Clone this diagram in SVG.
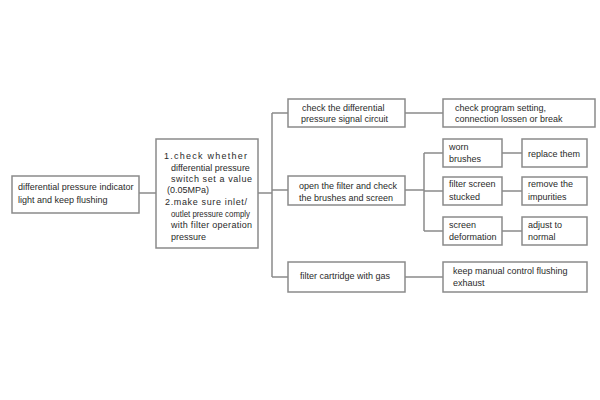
<svg xmlns="http://www.w3.org/2000/svg" width="600" height="400" viewBox="0 0 600 400">
<style>
.box{fill:#fff;stroke:#8a8a8a;stroke-width:1.5}
.ln{fill:none;stroke:#8a8a8a;stroke-width:1.5}
text{font-family:"Liberation Sans",Arial,sans-serif;font-size:9px;fill:#2a2a2a}
</style>
<rect width="600" height="400" fill="#fff"/>
<g id="connectors">
<path class="ln" d="M139 193H156"/>
<path class="ln" d="M258 193H272"/>
<path class="ln" d="M272 113V277"/>
<path class="ln" d="M272 113H288M272 190H288M272 277H288"/>
<path class="ln" d="M405 113H443"/>
<path class="ln" d="M405 190H424"/>
<path class="ln" d="M424 153V231"/>
<path class="ln" d="M424 153H443M424 191H443M424 231H443"/>
<path class="ln" d="M502 153H522M502 191H522M502 231H522"/>
<path class="ln" d="M405 277H443"/>
</g>
<g id="n1">
<rect class="box" x="12" y="176" width="127" height="37"/>
<text x="18" y="190">differential pressure indicator</text>
<text x="18" y="203">light and keep flushing</text>
</g>
<g id="n2">
<rect class="box" x="156" y="139" width="102" height="109"/>
<text x="164" y="159" textLength="83" lengthAdjust="spacing">1.check whether</text>
<text x="171" y="170.5">differential pressure</text>
<text x="171" y="182" textLength="81" lengthAdjust="spacing">switch set a value</text>
<text x="167" y="193">(0.05MPa)</text>
<text x="165" y="205" textLength="82" lengthAdjust="spacing">2.make sure inlet/</text>
<text x="171" y="216.5" textLength="79" lengthAdjust="spacingAndGlyphs">outlet pressure comply</text>
<text x="171" y="228" textLength="81" lengthAdjust="spacing">with filter operation</text>
<text x="171" y="239.5">pressure</text>
</g>
<g id="n3a">
<rect class="box" x="288" y="99" width="117" height="28"/>
<text x="302" y="110.5">check the differential</text>
<text x="301" y="122">pressure signal circuit</text>
</g>
<g id="n3b">
<rect class="box" x="288" y="176" width="117" height="29"/>
<text x="299" y="189">open the filter and check</text>
<text x="299" y="200.5">the brushes and screen</text>
</g>
<g id="n3c">
<rect class="box" x="288" y="262" width="117" height="30"/>
<text x="300" y="278.5">filter cartridge with gas</text>
</g>
<g id="n4a">
<rect class="box" x="443" y="99" width="152" height="28"/>
<text x="455" y="110.5">check program setting,</text>
<text x="455" y="122">connection lossen or break</text>
</g>
<g id="n4b">
<rect class="box" x="443" y="139" width="59" height="28"/>
<text x="449" y="149.5">worn</text>
<text x="449" y="162">brushes</text>
</g>
<g id="n5b">
<rect class="box" x="522" y="139" width="65" height="28"/>
<text x="528" y="157">replace them</text>
</g>
<g id="n4c">
<rect class="box" x="443" y="177" width="59" height="28"/>
<text x="449" y="187">filter screen</text>
<text x="449" y="199.5">stucked</text>
</g>
<g id="n5c">
<rect class="box" x="522" y="177" width="65" height="28"/>
<text x="528" y="187">remove the</text>
<text x="528" y="199.5">impurities</text>
</g>
<g id="n4d">
<rect class="box" x="443" y="217" width="59" height="28"/>
<text x="449" y="227.5">screen</text>
<text x="449" y="240">deformation</text>
</g>
<g id="n5d">
<rect class="box" x="522" y="217" width="65" height="28"/>
<text x="528" y="227.5">adjust to</text>
<text x="528" y="240">normal</text>
</g>
<g id="n4e">
<rect class="box" x="443" y="262" width="144" height="30"/>
<text x="453" y="274">keep manual control flushing</text>
<text x="453" y="285.5">exhaust</text>
</g>
</svg>
